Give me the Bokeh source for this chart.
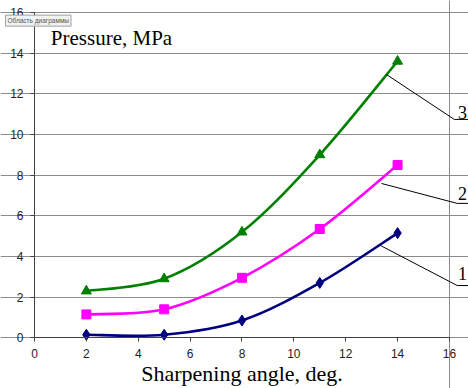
from bokeh.plotting import figure
from bokeh.models import Label, Arrow, Range1d, FixedTicker
from bokeh.embed import file_html
from bokeh.resources import INLINE

angles = [2, 5, 8, 11, 14]
series1 = [0.15, 0.15, 0.85, 2.7, 5.15]
series2 = [1.15, 1.4, 2.95, 5.35, 8.5]
series3 = [2.3, 2.9, 5.2, 9.0, 13.6]
x_ticks = [0, 2, 4, 6, 8, 10, 12, 14, 16]
y_ticks = [0, 2, 4, 6, 8, 10, 12, 14, 16]
curve_labels = ["1", "2", "3"]

p = figure(width=468, height=388, output_backend="svg", toolbar_location=None,
           x_range=Range1d(-1.311, 16.735), y_range=Range1d(-2.494, 16.59),
           min_border=0)
p.background_fill_color = "white"
p.border_fill_color = "white"
p.outline_line_color = None

# horizontal gridlines and right border of the plot area
p.ygrid.grid_line_color = "#8c8c8c"
p.ygrid.ticker = FixedTicker(ticks=y_ticks)
p.ygrid.bounds = (0, 16)
p.xgrid.grid_line_color = "#8c8c8c"
p.xgrid.ticker = FixedTicker(ticks=[x_ticks[-1]])
p.xgrid.bounds = (0, 16)

for ax in (p.xaxis[0], p.yaxis[0]):
    ax.fixed_location = 0
    ax.bounds = (0, 16)
    ax.axis_line_color = "#404040"
    ax.major_tick_line_color = "#404040"
    ax.major_tick_out = 4
    ax.major_tick_in = 0
    ax.minor_tick_line_color = None
    ax.major_label_text_font = "Liberation Sans"
    ax.major_label_text_font_size = "12px"
    ax.major_label_text_color = "#222222"
p.xaxis.ticker = FixedTicker(ticks=x_ticks)
p.yaxis.ticker = FixedTicker(ticks=y_ticks)
p.xaxis.major_label_standoff = 7
p.yaxis.major_label_standoff = 7
p.xaxis.axis_label = "Sharpening angle, deg."
p.xaxis.axis_label_text_font = "Liberation Serif"
p.xaxis.axis_label_text_font_style = "normal"
p.xaxis.axis_label_text_font_size = "22px"
p.xaxis.axis_label_text_color = "black"
p.xaxis.axis_label_standoff = 0


def smooth(xs, ys):
    # Excel-like smoothing: cubic Bezier segments with Catmull-Rom control points
    n = len(xs)
    x0, y0, x1, y1, cx0, cy0, cx1, cy1 = [], [], [], [], [], [], [], []
    for i in range(n - 1):
        pm = (xs[max(i - 1, 0)], ys[max(i - 1, 0)])
        pa = (xs[i], ys[i])
        pb = (xs[i + 1], ys[i + 1])
        pn = (xs[min(i + 2, n - 1)], ys[min(i + 2, n - 1)])
        x0.append(pa[0]); y0.append(pa[1]); x1.append(pb[0]); y1.append(pb[1])
        cx0.append(pa[0] + (pb[0] - pm[0]) / 6); cy0.append(pa[1] + (pb[1] - pm[1]) / 6)
        cx1.append(pb[0] - (pn[0] - pa[0]) / 6); cy1.append(pb[1] - (pn[1] - pa[1]) / 6)
    return dict(x0=x0, y0=y0, x1=x1, y1=y1, cx0=cx0, cy0=cy0, cx1=cx1, cy1=cy1)


styles = [
    (series1, "#000080", "diamond", 11),
    (series2, "#ff00ff", "square", 9),
    (series3, "#008000", "triangle", 10),
]
for ys, col, mk, sz in styles:
    p.bezier(line_color=col, line_width=2.6, **smooth(angles, ys))
    p.scatter(angles, ys, marker=mk, size=sz, fill_color=col, line_color=col)

# leader lines and curve numbers (right of the plot area)
leaders = [
    ((13.34, 4.54), (16.3, 2.57), 3.16),
    ((13.38, 7.59), (16.3, 6.61), 7.10),
    ((13.57, 12.95), (16.19, 10.74), 11.08),
]
for lab, ((sx, sy), (ex, ey), ty) in zip(curve_labels, leaders):
    p.add_layout(Arrow(end=None, x_start=sx, y_start=sy, x_end=ex, y_end=ey,
                       line_color="black", line_width=1))
    p.add_layout(Arrow(end=None, x_start=ex, y_start=ey, x_end=16.8, y_end=ey,
                       line_color="black", line_width=1))
    p.add_layout(Label(x=16.5, y=ty, text=lab, text_font="Liberation Serif",
                       text_font_size="18px", text_align="center", text_baseline="middle",
                       text_color="black"))

p.add_layout(Label(x=2.97, y=14.77, text="Pressure, MPa", text_font="Liberation Serif",
                   text_font_size="21px", text_align="center", text_baseline="middle",
                   text_color="black"))

p.add_layout(Label(x=-1.12, y=15.6, text="Область диаграммы",
                   text_font="Liberation Sans", text_font_size="6.5px", text_color="#555555",
                   text_baseline="middle",
                   background_fill_color="#f2f2f2", border_line_color="#a0a0a0",
                   padding=2))

open("out.html", "w").write(file_html(p, INLINE))
